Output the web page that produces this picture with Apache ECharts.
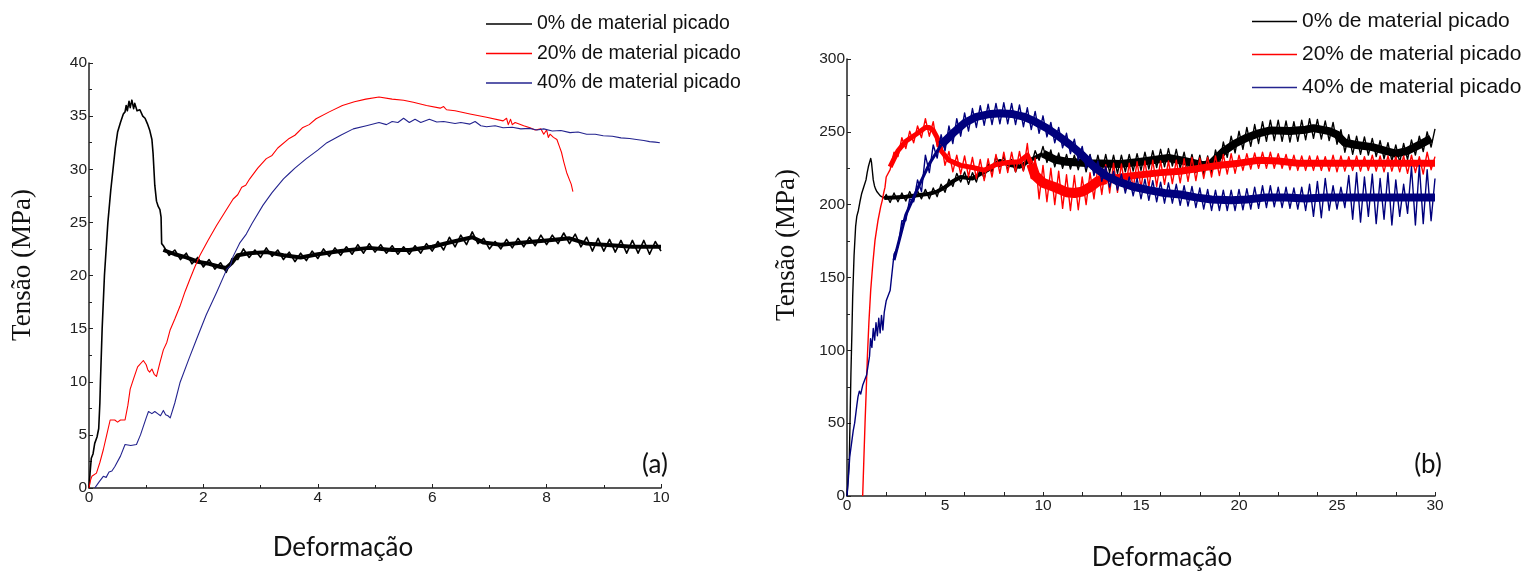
<!DOCTYPE html>
<html>
<head>
<meta charset="utf-8">
<script src="https://cdn.jsdelivr.net/npm/echarts/dist/echarts.min.js"></script>
<style>
html,body{margin:0;padding:0;background:#fff;}
#chart{width:1528px;height:574px;}
</style>
</head>
<body>
<div id="chart"></div>
<script>
// ---------- names / labels ----------
const seriesNames = ['0% de material picado', '20% de material picado', '40% de material picado'];
const yTitle = 'Tensão (MPa)';
const xTitle = 'Deformação';
const panelLabels = ['(a)', '(b)'];

// ---------- panel (a): strain 0-10, stress 0-40 ----------
const a0 = [
[0,0],[0.02,1.5],[0.04,2.8],[0.07,3.2],[0.1,4.2],[0.14,4.8],[0.17,5.6],[0.19,8],[0.2,10],[0.23,15],[0.27,20],[0.33,25],[0.38,28],[0.42,30],[0.46,32],[0.5,33.5],[0.55,34.4],[0.6,35.2],[0.63,35.4],[0.65,36.0],[0.67,35.5],[0.7,36.4],[0.72,35.8],[0.75,36.5],[0.78,35.7],[0.8,36.2],[0.84,35.5],[0.89,35.6],[0.94,35.0],[0.98,34.8],[1.02,34.3],[1.06,33.7],[1.1,32.8],[1.12,31.5],[1.14,29.5],[1.15,28.5],[1.18,27.0],[1.21,26.5],[1.24,26.2],[1.26,25.5],[1.27,23.0],
[1.3,22.8],[1.4,21.9],[1.5,22.4],[1.6,21.5],[1.7,22.1],[1.8,21.1],[1.9,21.7],[2.0,20.8],[2.1,21.5],[2.2,20.6],
[2.3,21.2],[2.4,20.3],[2.5,21.6],[2.6,21.5],[2.7,22.5],[2.8,21.7],[2.9,22.4],[3.0,21.7],[3.1,22.6],[3.2,21.8],
[3.3,22.4],[3.4,21.5],[3.5,22.2],[3.6,21.3],[3.7,22.1],[3.8,21.4],[3.9,22.3],[4.0,21.6],[4.1,22.5],[4.2,21.8],
[4.3,22.6],[4.4,21.9],[4.5,22.7],[4.6,22.0],[4.7,22.9],[4.8,22.1],[4.9,23.0],[5.0,22.2],[5.1,22.9],[5.2,22.1],
[5.3,22.8],[5.4,22.0],[5.5,22.7],[5.6,22.0],[5.7,22.8],[5.8,22.1],[5.9,23.0],[6.0,22.3],[6.1,23.2],[6.2,22.4],
[6.3,23.6],[6.4,22.7],[6.5,23.8],[6.6,22.9],[6.7,24.1],[6.8,23.0],[6.9,23.5],[7.0,22.5],[7.1,23.2],[7.2,22.5],
[7.3,23.4],[7.4,22.6],[7.5,23.5],[7.6,22.7],[7.7,23.6],[7.8,22.8],[7.9,23.8],[8.0,22.9],[8.1,23.8],[8.2,23.0],
[8.3,24.0],[8.4,23.0],[8.5,23.9],[8.6,22.7],[8.7,23.6],[8.8,22.3],[8.9,23.5],[9.0,22.3],[9.1,23.4],[9.2,22.2],
[9.3,23.3],[9.4,22.1],[9.5,23.3],[9.6,22.1],[9.7,23.3],[9.8,22.0],[9.9,23.2],[10.0,22.3]
];
// centre of the noisy black band in (a)
const a0Core = [[1.3,22.4],[1.5,22.0],[1.7,21.7],[1.9,21.3],[2.1,21.1],[2.3,20.8],[2.4,20.7],[2.5,21.2],[2.6,21.9],[2.8,22.1],[3.1,22.2],[3.4,21.9],[3.7,21.7],[4.0,22.0],[4.4,22.3],[4.9,22.6],[5.3,22.4],[5.6,22.4],[6.0,22.7],[6.3,23.1],[6.7,23.6],[6.9,23.1],[7.2,22.9],[7.6,23.1],[8.0,23.3],[8.4,23.5],[8.7,23.0],[9.0,22.9],[9.5,22.7],[10.0,22.7]];
const a20 = [
[0,0],[0.03,0.8],[0.05,1.1],[0.13,1.4],[0.19,2.4],[0.25,3.6],[0.31,5.0],[0.37,6.4],[0.45,6.4],[0.5,6.2],[0.55,6.4],[0.63,6.4],[0.68,7.8],[0.72,9.3],[0.78,10.3],[0.85,11.4],[0.95,12.0],[1.0,11.6],[1.03,11.1],[1.06,10.9],[1.1,11.2],[1.14,10.7],[1.18,10.5],[1.24,11.8],[1.3,13.0],[1.36,13.7],[1.42,14.9],[1.5,15.9],[1.59,17.1],[1.68,18.5],[1.76,19.6],[1.85,20.8],[1.94,21.9],[2.08,23.3],[2.23,24.7],[2.38,26.0],[2.52,27.2],[2.6,27.6],[2.67,28.3],[2.74,28.5],[2.81,29.1],[2.95,30.1],[3.1,31.0],[3.2,31.3],[3.3,32.0],[3.5,32.9],[3.6,33.2],[3.73,33.9],[3.85,34.2],[3.97,34.75],[4.2,35.4],[4.43,36.0],[4.64,36.35],[4.84,36.6],[5.07,36.8],[5.3,36.6],[5.5,36.5],[5.67,36.3],[5.9,36.0],[6.14,35.75],[6.2,35.9],[6.25,35.6],[6.4,35.5],[6.66,35.2],[6.95,34.9],[7.24,34.55],[7.3,34.8],[7.33,34.2],[7.37,34.7],[7.4,34.2],[7.45,34.4],[7.6,34.1],[7.71,33.9],[7.8,33.7],[7.9,33.8],[7.95,33.3],[8.0,33.7],[8.03,33.0],[8.06,33.3],[8.12,33.0],[8.18,32.8],[8.22,32.2],[8.26,31.6],[8.3,30.7],[8.35,29.7],[8.4,29.0],[8.43,28.6],[8.46,27.9]
];
const a40 = [
[0.1,0],[0.14,0.3],[0.18,0.6],[0.25,1.1],[0.3,1.0],[0.35,1.5],[0.4,1.6],[0.45,2.0],[0.55,3.0],[0.63,4.1],[0.73,4.0],[0.83,4.1],[0.9,5.0],[0.95,5.8],[1.0,6.6],[1.04,7.2],[1.1,7.0],[1.15,7.2],[1.2,7.0],[1.25,6.8],[1.3,7.3],[1.34,6.9],[1.38,6.8],[1.42,6.6],[1.5,8.0],[1.59,9.9],[1.75,12.2],[1.88,14.0],[2.05,16.3],[2.23,18.4],[2.41,20.6],[2.47,20.9],[2.52,21.8],[2.64,23.1],[2.75,23.9],[2.85,24.9],[3.04,26.6],[3.2,27.8],[3.4,29.1],[3.5,29.6],[3.6,30.1],[3.8,31.0],[4.0,31.8],[4.16,32.5],[4.4,33.2],[4.62,33.8],[4.85,34.1],[5.07,34.4],[5.2,34.2],[5.3,34.5],[5.4,34.4],[5.5,34.8],[5.6,34.4],[5.7,34.7],[5.8,34.4],[5.95,34.7],[6.08,34.45],[6.2,34.5],[6.4,34.3],[6.5,34.4],[6.66,34.25],[6.75,34.5],[6.85,34.1],[6.95,34.0],[7.1,34.1],[7.24,33.9],[7.4,33.95],[7.55,33.8],[7.7,33.85],[7.83,33.7],[7.95,33.8],[8.1,33.6],[8.25,33.65],[8.41,33.45],[8.55,33.5],[8.7,33.3],[8.85,33.3],[8.99,33.15],[9.15,33.1],[9.3,32.95],[9.45,32.9],[9.57,32.8],[9.7,32.7],[9.8,32.6],[9.9,32.55],[9.98,32.5]
];

// ---------- panel (b): strain 0-30, stress 0-300 ----------
const b0Rise = [[0,0],[0.06,12],[0.12,27],[0.16,55],[0.2,84],[0.25,112],[0.29,137],[0.36,165],[0.44,185],[0.5,192],[0.58,196],[0.66,202],[0.75,207.7],[0.85,212],[0.97,217],[1.03,222],[1.09,226],[1.15,229],[1.21,231.8],[1.25,229],[1.28,225],[1.34,217],[1.4,213],[1.45,211],[1.52,209],[1.6,207.7],[1.7,206],[1.8,205],[1.9,204.5]];
const b20Rise = [[0.8,0],[0.86,25],[0.92,50],[0.98,72],[1.04,95.6],[1.12,120],[1.21,141.4],[1.32,160],[1.43,175.7],[1.58,189],[1.72,198.6],[1.8,203],[1.87,208],[1.94,212]];
const b40Rise = [[0,0],[0.07,12],[0.14,27],[0.25,38],[0.32,45],[0.39,50],[0.5,62],[0.56,68],[0.63,72],[0.7,70],[0.8,76],[0.9,75],[1.0,83],[1.08,90],[1.15,96],[1.2,108],[1.27,102],[1.34,115],[1.41,107],[1.48,119],[1.55,110],[1.62,122],[1.69,112],[1.76,124],[1.83,114],[1.9,126]];

const bX = [2,2.2,2.4,2.6,2.8,3,3.2,3.4,3.6,3.8,
4,4.2,4.4,4.6,4.8,5,5.2,5.4,5.6,5.8,
6,6.2,6.4,6.6,6.8,7,7.2,7.4,7.6,7.8,
8,8.2,8.4,8.6,8.8,9,9.2,9.4,9.6,9.8,
10,10.2,10.4,10.6,10.8,11,11.2,11.4,11.6,11.8,
12,12.2,12.4,12.6,12.8,13,13.2,13.4,13.6,13.8,
14,14.2,14.4,14.6,14.8,15,15.2,15.4,15.6,15.8,
16,16.2,16.4,16.6,16.8,17,17.2,17.4,17.6,17.8,
18,18.2,18.4,18.6,18.8,19,19.2,19.4,19.6,19.8,
20,20.2,20.4,20.6,20.8,21,21.2,21.4,21.6,21.8,
22,22.2,22.4,22.6,22.8,23,23.2,23.4,23.6,23.8,
24,24.2,24.4,24.6,24.8,25,25.2,25.4,25.6,25.8,
26,26.2,26.4,26.6,26.8,27,27.2,27.4,27.6,27.8,
28,28.2,28.4,28.6,28.8,29,29.2,29.4,29.6,29.8,
30];
const b0Y = [207,201.5,208,202,208,202.5,209,203,209.5,204,
210.5,204,211.5,205.5,214,208.5,217.5,212.5,221.5,215.5,
222.5,214,222,215.5,225,218,228,222.5,233,226,
233,224,231,222.5,230,223.5,233,227,237,230.5,
240,229,237.5,226,235.5,225,234.5,224.5,234,224,
235,222.5,234.5,222,234,222,234.5,222,234,221.5,
234,222.5,234.5,223,235,223.5,236,224.5,237,225.5,
238,226,238.5,226.5,238,225,236,223,234.5,222,
234,220.5,233.5,222,237.5,227.5,243,232.5,247,235.5,
250.5,238,253,240,255,242,257,243.5,258,244,
258,243.5,257.5,243,257,243.5,258,244.5,259,245.5,
258.5,245,257.5,244,256.5,241.5,251.5,236,248,234.5,
247,234.5,246.5,234,245.5,233,244,231.5,242.5,230,
241,229,242,231,244.5,234,247,236.5,250,239.5,
252];
const b20Y = [219,224,236,233,246,238.5,250.5,242.5,254,246,
259,247,257,240,243,227,236.5,222.5,234,221,
233.5,219,232.5,218,231,216.5,231.5,219,234.5,221.5,
236,222,236,222.5,236.5,223,242,218,232,204,
227,202,225,200,223,197.5,220.5,196,220,196.5,
219,200,222,204,226,207,227.5,208,228.5,208.5,
228,210,228.5,211,229.5,211.5,230,212,230.5,212.5,
230,214,230,214.5,230.5,215,231.5,216,232.5,216.5,
232,218,232.5,219,233.5,220,234.5,221,235,221.5,
234,223.5,235,224.5,235.5,225,236,225,236,225,
235,225,234.5,224,234,223.5,233.5,223.5,233.5,223.5,
233.5,223.5,233,223,234,222.5,233.5,223,233,223.5,
233.5,223,233,223.5,234,223,233.5,222.5,233.5,223,
233,222.5,233.5,221.5,234,222,233,221,236,224,
233];
const b40Y = [134,141,166,171,189,189,204,202,217,209,
234,222,241,232,248,237,254,242,259,247,
263,250.5,266,253,268,254.5,269,255,269.5,255.5,
270,255.5,269.5,255,268.5,253.5,266.5,251.5,264,249,
261,246.5,256.5,242.5,253,239,249,235,245,230.5,
240,225,234,220,230,216,226,212,223,210,
221,208,219,206,218,204,217.5,203,216.5,202,
215.5,201,215,201,214,199.5,213,199,212.5,198,
211.5,197,210.5,196,210,196,210,196,210,196,
210.5,196.5,211,197,212,197.5,213,198,213,198.5,
212,198,212,197.5,211.5,197,212,196,214,192,
216,191,218,196,213,197,212,198,220,190,
222,188,219,192,221,187,218,190,222,186,
217,192,214,194,226,186,227,187,224,189,
218];

// centre lines of the noisy bands in (b)
const b0CoreA = [[1.9,204.5],[2.4,205],[3,205.5],[3.6,206.5],[4.2,207.5],[4.6,209],[5,212],[5.4,216],[5.8,219],[6.4,218],[6.8,221],[7.2,224],[7.8,230],[8.4,227],[8.8,226],[9.4,231],[10,235]];
const b0CoreB = [[10,235],[10.6,231],[11.2,229.5],[12.4,228.5],[14,228],[15,229.5],[16.4,232],[17.2,230],[18.2,227],[18.6,228.5],[19.2,236.5],[19.8,242],[20.4,246],[21,249],[21.6,251],[22.6,250.5],[23.4,251.5],[23.8,252.5],[24.6,250.5],[25,248],[25.4,242.5],[26,241],[26.8,239.5],[27.6,236.5],[28,235],[28.6,237],[29.2,241],[29.8,245.5]];
const b20CoreA = [[2.2,226],[2.6,237],[3,243.5],[3.6,249],[4,253],[4.2,253],[4.4,251],[4.6,246],[4.8,237],[5.2,230.5],[5.8,227],[6.4,225.5],[7,223.7],[7.6,227.5],[8.2,229],[8.8,229.5],[9.2,234],[9.4,228]];
const b20CoreB = [[9.4,228],[9.6,220],[10,215],[10.6,212],[11.2,208.5],[11.6,208],[12,209],[12.4,212],[12.8,216],[13.2,217.5]];
const b20CoreC = [[13.2,217.5],[14,219],[15,220.5],[16,222],[17,223],[18,225],[19,227],[20,228.5],[21,230.5],[22,230],[23,228.5],[30,228.5]];
const b40CoreA = [[2.4,162],[3,193],[3.6,211],[4.2,228],[4.8,241]];
const b40CoreB = [[4.8,241],[5.4,249],[6,256],[6.6,260.3],[7.2,262],[7.8,262.7],[8.4,262.3],[9,260.5],[9.6,257],[10.2,252.5],[10.8,247],[11.4,241],[12,234],[12.6,226],[13.2,220],[13.8,216],[14.6,212.3],[15.4,210],[16.2,208],[17,207],[17.8,205],[18.6,203.5],[19.6,203],[20.4,203.5],[21.4,205],[22.4,205],[23.4,204.3],[24.4,205],[30,205]];

// ---------- build series data ----------
function joinNoisy(rise, xs, ys) {
  return rise.concat(xs.map(function (x, i) { return [x, ys[i]]; }));
}
const b0 = joinNoisy(b0Rise, bX, b0Y);
const b20 = joinNoisy(b20Rise, bX, b20Y);
const b40 = joinNoisy(b40Rise, bX, b40Y);

const cBlack = '#000000', cRed = '#ff0000', cBlueA = '#24248f', cBlueB = '#00007d';
const axisColor = '#222';
const labelFont = { fontFamily: 'Liberation Sans, Arial, sans-serif', fontSize: 15.5, color: '#222' };

function line(name, data, color, width, xi) {
  return {
    type: 'line', name: name, data: data, xAxisIndex: xi, yAxisIndex: xi,
    symbol: 'none', showSymbol: false, silent: true, animation: false,
    lineStyle: { color: color, width: width, join: 'round' }, itemStyle: { color: color }
  };
}

const chart = echarts.init(document.getElementById('chart'), null, { renderer: 'canvas' });
const axBase = {
  type: 'value',
  axisLine: { show: true, onZero: false, lineStyle: { color: axisColor, width: 1.5 } },
  axisTick: { show: true, inside: true, length: 4, lineStyle: { color: axisColor } },
  minorTick: { show: true, splitNumber: 2, length: 3, lineStyle: { color: axisColor } },
  splitLine: { show: false },
  axisLabel: Object.assign({ margin: 2 }, labelFont)
};
function ax(extra) { return Object.assign({}, JSON.parse(JSON.stringify(axBase)), extra); }

const legendIcon = 'path://M0,0L46,0L46,1.4L0,1.4Z';

chart.setOption({
  backgroundColor: '#fff',
  animation: false,
  grid: [
    { left: 89, top: 63, width: 572, height: 425 },
    { left: 847, top: 59, width: 588, height: 437 }
  ],
  xAxis: [
    ax({ gridIndex: 0, min: 0, max: 10, interval: 2, position: 'bottom' }),
    ax({ gridIndex: 1, min: 0, max: 30, interval: 5, position: 'bottom', axisTick: { show: false }, minorTick: { show: false } }),
    { type: 'value', gridIndex: 1, min: 0, max: 30, interval: 2, position: 'bottom',
      axisLine: { show: false }, axisLabel: { show: false }, splitLine: { show: false },
      axisTick: { show: true, inside: true, length: 4, lineStyle: { color: axisColor } } }
  ],
  yAxis: [
    ax({ gridIndex: 0, min: 0, max: 40, interval: 5 }),
    ax({ gridIndex: 1, min: 0, max: 300, interval: 50 })
  ],
  legend: [
    { data: seriesNames, orient: 'vertical', left: 486, top: 14, padding: 0, icon: legendIcon,
      itemWidth: 46, itemHeight: 20, itemGap: 9.5, selectedMode: false,
      textStyle: { fontFamily: 'Liberation Sans, Arial, sans-serif', fontSize: 19.5, color: '#111', lineHeight: 20 } },
    { data: seriesNames, orient: 'vertical', left: 1252, top: 11, padding: 0, icon: legendIcon,
      itemWidth: 45, itemHeight: 21, itemGap: 12, selectedMode: false,
      textStyle: { fontFamily: 'Liberation Sans, Arial, sans-serif', fontSize: 21, color: '#111', lineHeight: 21 } }
  ],
  graphic: [
    { type: 'text', x: 23, y: 265, rotation: Math.PI / 2, silent: true,
      style: { text: yTitle, font: '27px "Liberation Serif", "Times New Roman", serif', fill: '#111', align: 'center', verticalAlign: 'middle' } },
    { type: 'text', x: 787, y: 245, rotation: Math.PI / 2, silent: true,
      style: { text: yTitle, font: '27px "Liberation Serif", "Times New Roman", serif', fill: '#111', align: 'center', verticalAlign: 'middle' } },
    { type: 'text', x: 343, y: 548, silent: true,
      style: { text: xTitle, font: '26px Lato, "Open Sans", sans-serif', fill: '#111', align: 'center', verticalAlign: 'middle' } },
    { type: 'text', x: 1162, y: 558, silent: true,
      style: { text: xTitle, font: '26px Lato, "Open Sans", sans-serif', fill: '#111', align: 'center', verticalAlign: 'middle' } },
    { type: 'text', x: 655, y: 465, silent: true,
      style: { text: panelLabels[0], font: '26px Lato, "Open Sans", sans-serif', fill: '#111', align: 'center', verticalAlign: 'middle' } },
    { type: 'text', x: 1428, y: 465, silent: true,
      style: { text: panelLabels[1], font: '26px Lato, "Open Sans", sans-serif', fill: '#111', align: 'center', verticalAlign: 'middle' } }
  ],
  series: [
    line(seriesNames[0], a0, cBlack, 1.6, 0),
    line(seriesNames[0], a0Core, cBlack, 4, 0),
    line(seriesNames[1], a20, cRed, 1.1, 0),
    line(seriesNames[2], a40, cBlueA, 1.1, 0),
    line(seriesNames[0], b0, cBlack, 1.4, 1),
    line(seriesNames[0], b0CoreA, cBlack, 4, 1),
    line(seriesNames[0], b0CoreB, cBlack, 8, 1),
    line(seriesNames[1], b20, cRed, 1.4, 1),
    line(seriesNames[1], b20CoreA, cRed, 5, 1),
    line(seriesNames[1], b20CoreB, cRed, 10, 1),
    line(seriesNames[1], b20CoreC, cRed, 7, 1),
    line(seriesNames[2], b40, cBlueB, 1.4, 1),
    line(seriesNames[2], b40CoreA, cBlueB, 3, 1),
    line(seriesNames[2], b40CoreB, cBlueB, 8, 1)
  ]
});
</script>
</body>
</html>
